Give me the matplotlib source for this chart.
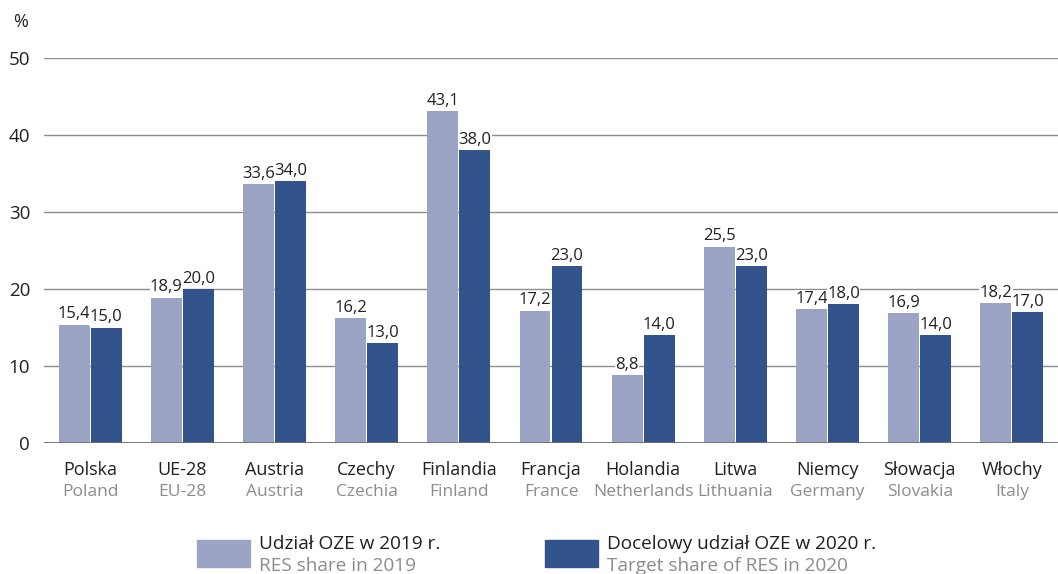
import numpy as np
import matplotlib.pyplot as plt
from matplotlib.patches import Rectangle

plt.rcParams['font.family'] = ['Open Sans', 'DejaVu Sans']

# Dane
kraje_pl = ['Polska', 'UE-28', 'Austria', 'Czechy', 'Finlandia', 'Francja',
            'Holandia', 'Litwa', 'Niemcy', 'Słowacja', 'Włochy']
kraje_en = ['Poland', 'EU-28', 'Austria', 'Czechia', 'Finland', 'France',
            'Netherlands', 'Lithuania', 'Germany', 'Slovakia', 'Italy']
udzial_2019 = [15.4, 18.9, 33.6, 16.2, 43.1, 17.2, 8.8, 25.5, 17.4, 16.9, 18.2]
cel_2020 = [15.0, 20.0, 34.0, 13.0, 38.0, 23.0, 14.0, 23.0, 18.0, 14.0, 17.0]
legenda_pl = ['Udział OZE w 2019 r.', 'Docelowy udział OZE w 2020 r.']
legenda_en = ['RES share in 2019', 'Target share of RES in 2020']

jasny = '#9ca4c6'
ciemny = '#33538c'
szary = '#8c8c8c'
tekst = '#231f20'

fig = plt.figure(figsize=(10.58, 5.74), dpi=100)
ax = fig.add_axes([0.0416, 0.228, 0.9584, 0.671])

x = np.arange(len(kraje_pl))
w = 0.335
g = 0.006
b1 = ax.bar(x - w / 2 - g, udzial_2019, w, color=jasny, zorder=3)
b2 = ax.bar(x + w / 2 + g, cel_2020, w, color=ciemny, zorder=3)

for bars, vals in ((b1, udzial_2019), (b2, cel_2020)):
    for r, v in zip(bars, vals):
        ax.text(r.get_x() + r.get_width() / 2, v + 0.3,
                f'{v:.1f}'.replace('.', ','), ha='center', va='bottom',
                fontsize=12, color=tekst, zorder=4,
                bbox=dict(facecolor='white', edgecolor='none', pad=0.3))

ax.set_xlim(-0.5, len(kraje_pl) - 0.5)
ax.set_ylim(0, 50)
ax.set_yticks(range(0, 51, 10))
ax.yaxis.grid(True, color=szary, linewidth=1, zorder=0)
ax.axhline(0, color='#6d6e71', linewidth=2, zorder=5)
for s in ax.spines.values():
    s.set_visible(False)
ax.tick_params(axis='y', length=0, labelsize=13.5, labelcolor=tekst, pad=10)
ax.tick_params(axis='x', length=0)
ax.set_xticks(x)
ax.set_xticklabels([''] * len(x))

for i in x:
    ax.text(i, -3.5, kraje_pl[i], ha='center', va='center', fontsize=13,
            color=tekst)
    ax.text(i, -6.35, kraje_en[i], ha='center', va='center', fontsize=12.5,
            color=szary)

fig.text(0.012, 0.962, '%', fontsize=13, color=tekst, va='center')

# Legenda
for lx, c, pl, en in zip([197, 545], [jasny, ciemny], legenda_pl, legenda_en):
    fig.patches.append(Rectangle((lx / 1058, 1 - 567 / 574), 53 / 1058, 27 / 574,
                                 transform=fig.transFigure, color=c))
    fig.text((lx + 62) / 1058, 1 - 544 / 574, pl, fontsize=13.7, color=tekst, va='center')
    fig.text((lx + 62) / 1058, 1 - 566 / 574, en, fontsize=13.7, color=szary, va='center')

plt.savefig('out.png', dpi=100)
